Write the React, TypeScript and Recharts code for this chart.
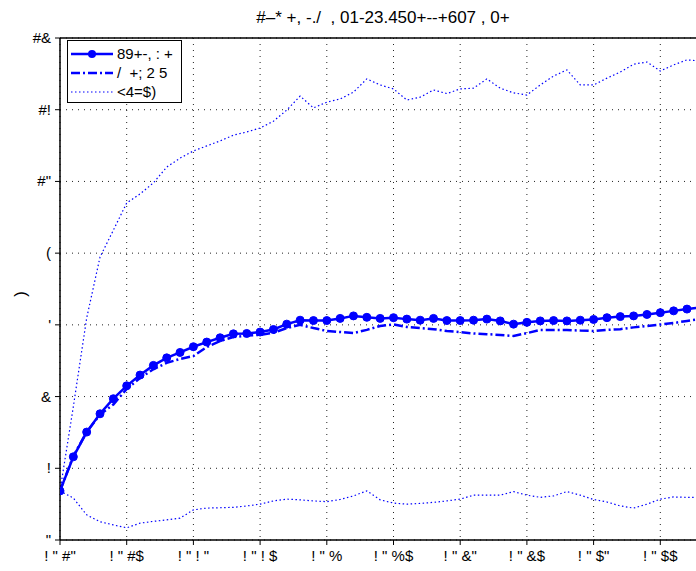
import React from 'react';
import { LineChart, Line, XAxis, YAxis, CartesianGrid, Legend, ReferenceLine } from 'recharts';

const years = [
  2010, 2011, 2012, 2013, 2014, 2015, 2016, 2017, 2018, 2019,
  2020, 2021, 2022, 2023, 2024, 2025, 2026, 2027, 2028, 2029,
  2030, 2031, 2032, 2033, 2034, 2035, 2036, 2037, 2038, 2039,
  2040, 2041, 2042, 2043, 2044, 2045, 2046, 2047, 2048, 2049,
  2050, 2051, 2052, 2053, 2054, 2055, 2056, 2057, 2058,
];

const seriesSolid = [
  1.37, 2.32, 3.01, 3.52, 3.94, 4.30, 4.60, 4.87, 5.08, 5.23,
  5.39, 5.52, 5.64, 5.75, 5.76, 5.80, 5.87, 6.02, 6.13, 6.12,
  6.12, 6.18, 6.25, 6.21, 6.18, 6.20, 6.16, 6.13, 6.18, 6.12,
  6.12, 6.13, 6.16, 6.11, 6.02, 6.07, 6.11, 6.12, 6.11, 6.13,
  6.15, 6.20, 6.23, 6.25, 6.29, 6.34, 6.39, 6.44, 6.48,
];

const seriesDashDot = [
  1.37, 2.34, 3.01, 3.50, 3.78, 4.21, 4.52, 4.76, 4.94, 5.05,
  5.13, 5.38, 5.55, 5.66, 5.70, 5.72, 5.78, 5.91, 6.00, 5.91,
  5.83, 5.80, 5.77, 5.86, 5.97, 6.01, 5.94, 5.91, 5.88, 5.83,
  5.80, 5.76, 5.74, 5.72, 5.69, 5.77, 5.86, 5.86, 5.86, 5.84,
  5.83, 5.86, 5.88, 5.93, 5.97, 6.01, 6.05, 6.11, 6.16,
];

const seriesUpper = [
  1.37, 3.72, 6.19, 7.89, 8.64, 9.40, 9.65, 9.96, 10.40, 10.65,
  10.85, 10.99, 11.13, 11.29, 11.38, 11.49, 11.68, 11.99, 12.38, 12.05,
  12.21, 12.30, 12.49, 12.86, 12.69, 12.58, 12.27, 12.35, 12.55, 12.45,
  12.58, 12.60, 12.86, 12.60, 12.47, 12.41, 12.69, 12.94, 13.11, 12.69,
  12.69, 12.88, 13.05, 13.27, 13.33, 13.08, 13.25, 13.39, 13.36,
];

const seriesLower = [
  1.37, 1.17, 0.70, 0.51, 0.42, 0.34, 0.47, 0.52, 0.56, 0.61,
  0.84, 0.89, 0.90, 0.91, 0.95, 1.00, 1.09, 1.14, 1.12, 1.09,
  1.07, 1.13, 1.23, 1.37, 1.12, 1.03, 1.00, 1.02, 1.05, 1.09,
  1.14, 1.25, 1.25, 1.25, 1.35, 1.25, 1.19, 1.23, 1.35, 1.25,
  1.13, 1.06, 0.95, 0.89, 1.00, 1.14, 1.20, 1.19, 1.19,
];

const xTicks = [2010, 2015, 2020, 2025, 2030, 2035, 2040, 2045, 2050, 2055, 2060];
const xTickLabels = ['! " #"', '! " #$', '! " ! "', '! " ! $', '! " %', '! " %$', '! " &"', '! " &$', '! " $"', '! " $$', ''];
const yTicks = [0, 2, 4, 6, 8, 10, 12, 14];
const yTickLabels = ['"', '!', '&', "'", '(', '#"', '#!', '#&'];

const titleText = '#–* +, -./  , 01-23.450+--+607 , 0+';
const yLabelText = ')';
const legendNames = ['89+-, : +', '/  +; 2 5', '<4=$)'];

const data = years.map((yr, i) => ({
  year: yr,
  a: seriesSolid[i],
  b: seriesDashDot[i],
  c: seriesUpper[i],
  d: seriesLower[i],
}));

const FONT = '"Liberation Sans", Arial, Helvetica, sans-serif';
const BLUE = '#0000ff';

const LegendBox = () => (
  <div
    style={{
      border: '1px solid #000',
      background: '#fff',
      width: 115,
      height: 63,
      boxSizing: 'border-box',
      fontFamily: FONT,
      fontSize: 15,
      color: '#000',
      paddingTop: 3,
    }}
  >
    {[0, 1, 2].map((k) => (
      <div key={k} style={{ display: 'flex', alignItems: 'center', height: 19 }}>
        <svg width={44} height={12} style={{ marginLeft: 2 }}>
          {k === 0 && (
            <g>
              <line x1={1} y1={6} x2={43} y2={6} stroke={BLUE} strokeWidth={2.5} />
              <circle cx={22} cy={6} r={4} fill={BLUE} />
            </g>
          )}
          {k === 1 && (
            <line x1={1} y1={6} x2={43} y2={6} stroke={BLUE} strokeWidth={2.5} strokeDasharray="9 3 2 3" />
          )}
          {k === 2 && (
            <line x1={1} y1={6} x2={43} y2={6} stroke={BLUE} strokeWidth={1.2} strokeDasharray="1.5 2.5" />
          )}
        </svg>
        <span style={{ marginLeft: 3, whiteSpace: 'pre' }}>{legendNames[k]}</span>
      </div>
    ))}
  </div>
);

const XTick = (props: any) => {
  const { x, y, payload } = props;
  const idx = xTicks.indexOf(payload.value);
  return (
    <text x={x} y={y} dy={13} textAnchor="middle" fontFamily={FONT} fontSize={15} fill="#000" style={{ whiteSpace: 'pre' }}>
      {idx >= 0 ? xTickLabels[idx] : ''}
    </text>
  );
};

const YTick = (props: any) => {
  const { x, y, payload } = props;
  const idx = yTicks.indexOf(payload.value);
  return (
    <text x={x} y={y} dy={5} textAnchor="end" fontFamily={FONT} fontSize={15} fill="#000">
      {idx >= 0 ? yTickLabels[idx] : ''}
    </text>
  );
};

export default function App() {
  return (
    <div style={{ position: 'absolute', left: 0, top: 0, width: 696, height: 571, overflow: 'hidden', background: '#fff' }}>
      <div
        style={{
          position: 'absolute',
          left: 0,
          top: 8,
          width: 766,
          textAlign: 'center',
          fontFamily: FONT,
          fontSize: 17,
          lineHeight: '20px',
          color: '#000',
          whiteSpace: 'pre',
          zIndex: 2,
        }}
      >
        {titleText}
      </div>
      <svg
        width={40}
        height={60}
        style={{ position: 'absolute', left: 0, top: 265, zIndex: 2 }}
      >
        <g transform="translate(21 29) rotate(-90)">
          <text x={0} y={0} dy={5} textAnchor="middle" fontFamily={FONT} fontSize={17} fill="#000">
            {yLabelText}
          </text>
        </g>
      </svg>
      <LineChart
        width={727}
        height={571}
        data={data}
        margin={{ top: 38, right: 0, bottom: 0, left: 0 }}
      >
        <CartesianGrid stroke="#222" strokeDasharray="1 5" strokeWidth={1} />
        <XAxis
          dataKey="year"
          type="number"
          domain={[2010, 2060]}
          ticks={xTicks}
          height={31}
          tick={<XTick />}
          tickSize={5}
          tickMargin={3}
          axisLine={{ stroke: '#000', strokeWidth: 1.5 }}
          tickLine={{ stroke: '#000' }}
          interval={0}
          allowDataOverflow
        />
        <YAxis
          type="number"
          domain={[0, 14]}
          ticks={yTicks}
          width={60}
          tick={<YTick />}
          tickSize={5}
          tickMargin={4}
          axisLine={{ stroke: '#000', strokeWidth: 1.5 }}
          tickLine={{ stroke: '#000' }}
          interval={0}
        />
        <ReferenceLine y={14} stroke="#000" strokeWidth={1.5} />
        <Legend
          layout="vertical"
          align="center"
          verticalAlign="middle"
          content={<LegendBox />}
          wrapperStyle={{ left: 67, top: 40, width: 115, height: 63 }}
        />
        <Line
          dataKey="c"
          name={legendNames[2]}
          stroke={BLUE}
          strokeWidth={1.2}
          strokeDasharray="1.5 2.5"
          dot={false}
          isAnimationActive={false}
        />
        <Line
          dataKey="d"
          name="lower"
          stroke={BLUE}
          strokeWidth={1.2}
          strokeDasharray="1.5 2.5"
          dot={false}
          legendType="none"
          isAnimationActive={false}
        />
        <Line
          dataKey="b"
          name={legendNames[1]}
          stroke={BLUE}
          strokeWidth={2.5}
          strokeDasharray="9 3 2 3"
          dot={false}
          isAnimationActive={false}
        />
        <Line
          dataKey="a"
          name={legendNames[0]}
          stroke={BLUE}
          strokeWidth={2.5}
          dot={{ r: 4, fill: BLUE, stroke: BLUE, strokeWidth: 1 }}
          isAnimationActive={false}
        />
      </LineChart>
    </div>
  );
}
